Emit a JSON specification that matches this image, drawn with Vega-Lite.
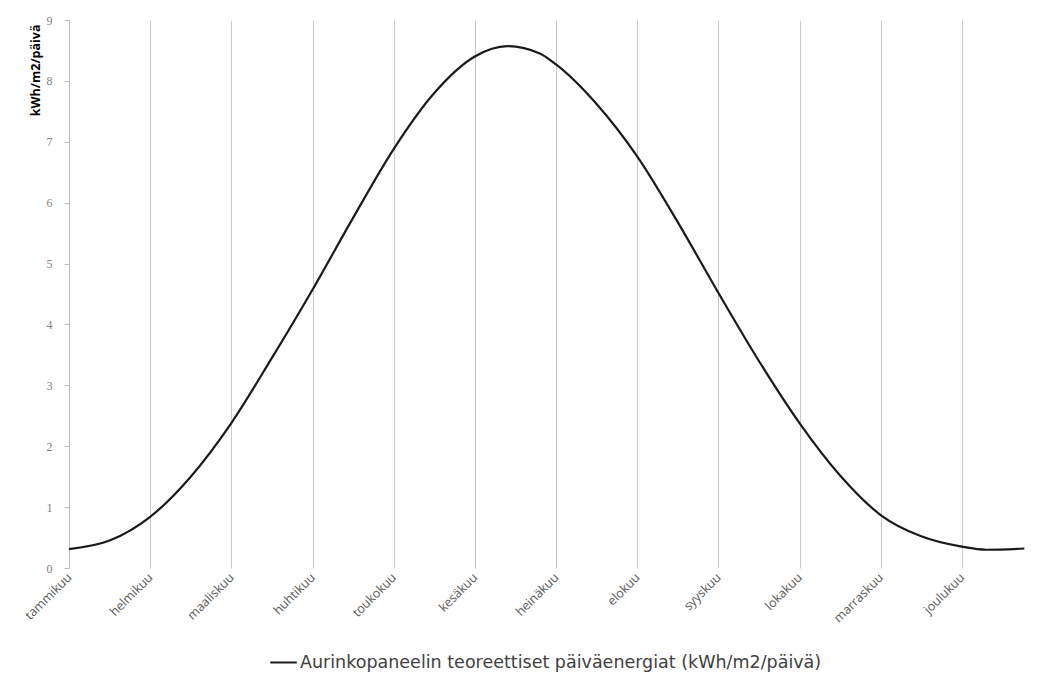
{
  "$schema": "https://vega.github.io/schema/vega-lite/v6.json",
  "width": 974,
  "height": 548,
  "autosize": {"type": "none"},
  "padding": {"left": 69, "top": 20, "right": 2, "bottom": 114},
  "background": "white",
  "config": {
    "view": {"stroke": null},
    "font": "Liberation Sans"
  },
  "data": {
    "values": [
      {"m": 0.0, "v": 0.31},
      {"m": 0.5, "v": 0.45},
      {"m": 1.0, "v": 0.84},
      {"m": 1.5, "v": 1.5},
      {"m": 2.0, "v": 2.38},
      {"m": 2.5, "v": 3.45},
      {"m": 3.0, "v": 4.57},
      {"m": 3.5, "v": 5.75},
      {"m": 4.0, "v": 6.88},
      {"m": 4.5, "v": 7.8},
      {"m": 5.0, "v": 8.4},
      {"m": 5.4, "v": 8.57},
      {"m": 5.8, "v": 8.45},
      {"m": 6.0, "v": 8.27},
      {"m": 6.5, "v": 7.62},
      {"m": 7.0, "v": 6.76},
      {"m": 7.5, "v": 5.68},
      {"m": 8.0, "v": 4.52},
      {"m": 8.5, "v": 3.4},
      {"m": 9.0, "v": 2.38},
      {"m": 9.5, "v": 1.52},
      {"m": 10.0, "v": 0.87},
      {"m": 10.5, "v": 0.52},
      {"m": 11.0, "v": 0.35},
      {"m": 11.3, "v": 0.3},
      {"m": 11.77, "v": 0.32}
    ]
  },
  "transform": [
    {"calculate": "'Aurinkopaneelin teoreettiset päiväenergiat (kWh/m2/päivä)'", "as": "sarja"}
  ],
  "mark": {"type": "line", "interpolate": "monotone", "strokeWidth": 2.2},
  "encoding": {
    "x": {
      "field": "m",
      "type": "quantitative",
      "scale": {"domain": [0, 12], "nice": false, "zero": false},
      "axis": {
        "title": null,
        "values": [0, 1, 2, 3, 4, 5, 6, 7, 8, 9, 10, 11],
        "labelExpr": "['tammikuu','helmikuu','maaliskuu','huhtikuu','toukokuu','kesäkuu','heinäkuu','elokuu','syyskuu','lokakuu','marraskuu','joulukuu'][datum.value]",
        "labelAngle": -45,
        "labelAlign": "right",
        "labelBaseline": "middle",
        "labelPadding": 7,
        "labelFontSize": 12.5,
        "labelColor": "#595959",
        "labelFont": "Open Sans",
        "domain": false,
        "ticks": false,
        "grid": true,
        "gridColor": "#c8c8c8",
        "gridWidth": 1
      }
    },
    "y": {
      "field": "v",
      "type": "quantitative",
      "scale": {"domain": [0, 9], "nice": false},
      "axis": {
        "title": "kWh/m2/päivä",
        "titleAngle": -90,
        "titleAlign": "right",
        "titleBaseline": "middle",
        "titleX": -34,
        "titleY": 4,
        "titleFontSize": 12.5,
        "titleFontWeight": "bold",
        "titleColor": "#000000",
        "titleFont": "Open Sans",
        "values": [0, 1, 2, 3, 4, 5, 6, 7, 8, 9],
        "labelFontSize": 12,
        "labelColor": "#7f7f7f",
        "labelPadding": 12,
        "labelFont": "Liberation Serif",
        "domain": true,
        "domainColor": "#bfbfbf",
        "ticks": true,
        "tickSize": 5,
        "tickColor": "#bfbfbf",
        "grid": false
      }
    },
    "color": {
      "field": "sarja",
      "type": "nominal",
      "scale": {"range": ["#1a1a1a"]},
      "legend": {
        "title": null,
        "orient": "none",
        "legendX": 200,
        "legendY": 628,
        "symbolType": "stroke",
        "symbolSize": 700,
        "symbolStrokeWidth": 2,
        "labelFontSize": 17.5,
        "labelFont": "DejaVu Sans",
        "labelColor": "#404040",
        "labelLimit": 800,
        "labelOffset": 2
      }
    }
  }
}
